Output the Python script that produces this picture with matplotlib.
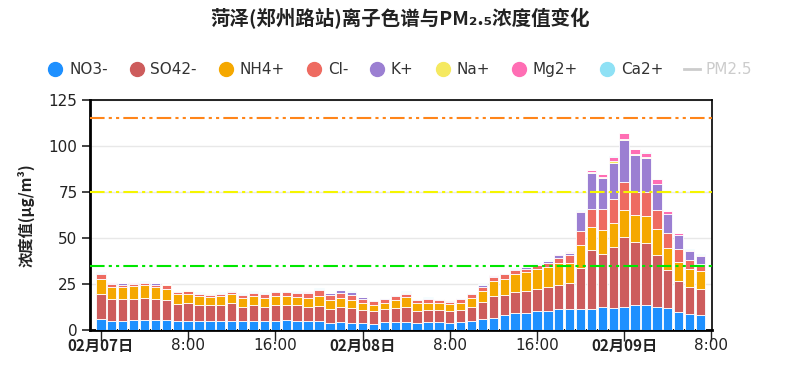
import matplotlib
matplotlib.use("Agg")
import matplotlib.pyplot as plt
from matplotlib.lines import Line2D

plt.rcParams['font.family'] = ['DejaVu Sans', 'Noto Sans CJK SC']
CJK = ['Noto Sans CJK SC', 'DejaVu Sans']

# hourly samples, 02-07 00:00 .. 02-09 07:00
hours = list(range(56))

no3 = [6.2, 5.1, 5.1, 5.7, 5.7, 5.7, 5.7, 5.1, 5.1, 4.8, 4.8, 4.8, 5.1, 4.8, 4.8, 5.1,
       5.1, 5.5, 4.9, 4.9, 4.9, 3.8, 4.6, 3.8, 3.8, 3.5, 4.6, 4.2, 4.6, 4.0, 4.6, 4.6,
       4.0, 4.6, 5.1, 6.0, 6.7, 7.9, 9.0, 9.0, 10.1, 10.4, 11.5, 11.5, 11.5, 11.5,
       12.6, 12.0, 12.6, 13.7, 13.7, 12.6, 11.7, 9.9, 8.8, 8.4]
so4 = [13.4, 11.7, 11.7, 11.1, 11.7, 11.1, 10.4, 9.2, 9.7, 8.9, 8.6, 8.6, 9.4, 7.8, 8.6, 7.5,
       8.3, 8.2, 8.5, 7.7, 8.3, 7.7, 7.9, 8.1, 6.8, 6.9, 6.9, 7.7, 7.9, 6.4, 6.4, 6.4,
       6.4, 6.2, 7.5, 9.2, 11.6, 11.1, 11.7, 12.1, 12.1, 13.0, 13.2, 13.8, 22.4, 31.9,
       28.6, 32.9, 38.1, 33.9, 33.4, 27.9, 21.0, 16.6, 14.4, 13.7]
nh4 = [8.0, 6.8, 6.3, 7.0, 7.0, 6.5, 6.4, 5.3, 4.8, 4.6, 4.5, 5.1, 4.9, 4.6, 4.9, 4.6,
       4.9, 4.8, 4.8, 4.8, 5.1, 4.8, 4.7, 4.4, 4.1, 3.2, 3.2, 4.4, 5.3, 4.3, 3.7, 3.7,
       3.7, 3.7, 4.6, 6.0, 8.1, 8.7, 9.5, 10.2, 10.8, 10.8, 11.6, 11.3, 12.3, 12.8,
       13.2, 13.1, 14.4, 15.0, 14.8, 14.4, 12.0, 10.4, 10.0, 9.7]
cl = [2.6, 1.5, 1.4, 1.1, 1.2, 1.4, 1.7, 1.1, 1.5, 1.3, 1.3, 1.1, 1.5, 1.8, 2.0, 2.4,
      2.2, 2.0, 1.8, 2.7, 3.3, 2.9, 3.1, 2.9, 2.3, 2.0, 2.0, 2.0, 1.8, 1.6, 2.1, 1.6,
      1.3, 2.2, 2.2, 2.2, 2.4, 2.5, 2.2, 1.9, 2.2, 2.4, 2.9, 4.1, 7.5, 9.5,
      11.1, 13.4, 15.4, 12.2, 12.9, 10.2, 8.0, 6.9, 4.8, 3.8]
k = [0.8, 0.5, 0.8, 0.6, 0.4, 0.6, 0.5, 0.4, 0.3, 0.5, 0.6, 0.5, 0.3, 0.6, 0.4, 0.5,
     0.6, 0.6, 0.7, 0.6, 0.7, 0.8, 1.3, 1.5, 0.8, 0.5, 0.5, 0.6, 0.7, 0.5, 0.6, 0.5,
     0.5, 0.5, 0.6, 0.8, 0.7, 0.6, 0.8, 0.9, 0.7, 0.9, 1.5, 0.9, 10.4, 19.5,
     17.2, 19.5, 22.6, 20.5, 18.4, 14.3, 10.3, 7.7, 4.9, 4.5]
na = [0.1, 0.2, 0.1, 0.3, 0.1, 0.1, 0.1, 0.1, 0.1, 0.1, 0.1, 0.1, 0.4, 0.1, 0.1, 0.1,
      0.1, 0.1, 0.1, 0.1, 0.1, 0.1, 0.1, 0.1, 0.1, 0.1, 0.1, 0.1, 0.5, 0.1, 0.1, 0.1,
      0.1, 0.1, 0.1, 0.1, 0.1, 0.1, 0.1, 0.1, 0.1, 0.1, 0.2, 1.0, 0.2, 0.5,
      0.6, 0.7, 0.7, 0.3, 0.6, 0.2, 0.2, 0.2, 0.1, 0.1]
mg = [0.1, 0.1, 0.1, 0.1, 0.1, 0.1, 0.1, 0.1, 0.1, 0.1, 0.1, 0.1, 0.1, 0.1, 0.1, 0.1,
      0.1, 0.1, 0.1, 0.2, 0.1, 0.1, 0.1, 0.1, 0.1, 0.1, 0.1, 0.1, 0.1, 0.1, 0.1, 0.1,
      0.1, 0.1, 0.1, 0.1, 0.1, 0.1, 0.1, 0.1, 0.1, 0.1, 0.3, 0.2, 0.3, 1.1,
      1.5, 2.6, 3.3, 2.9, 2.6, 2.5, 1.2, 0.9, 0.7, 0.8]
ca = [0.1, 0.1, 0.1, 0.1, 0.4, 0.1, 0.1, 0.1, 0.3, 0.1, 0.1, 0.1, 0.1, 0.1, 0.1, 0.1,
      0.1, 0.1, 0.1, 0.1, 0.1, 0.1, 0.1, 0.1, 0.1, 0.1, 0.1, 0.1, 0.1, 0.1, 0.1, 0.1,
      0.1, 0.1, 0.1, 0.5, 0.1, 0.1, 0.1, 0.1, 0.1, 0.1, 0.1, 0.1, 0.6, 0.2,
      0.1, 0.1, 0.1, 0.1, 0.3, 0.1, 0.1, 0.1, 0.1, 0.1]

ions = ["NO3-", "SO42-", "NH4+", "Cl-", "K+", "Na+", "Mg2+", "Ca2+"]
series = [no3, so4, nh4, cl, k, na, mg, ca]
colors = ['#1E90FF', '#CD5C5C', '#F5A800', '#EE6B61', '#9B7FD2', '#F5E960', '#FF6EB4', '#8FE1F5']

# standard lines
limits = [115, 75, 35]
limit_colors = ['#FF8519', '#F5F500', '#00E600']

tick_pos = [0, 8, 16, 24, 32, 40, 48, 56]
tick_labels = ["02月07日", "8:00", "16:00", "02月08日", "8:00", "16:00", "02月09日", "8:00"]

fig = plt.figure(figsize=(8, 3.78), dpi=100)
ax = fig.add_axes([0.1125, 0.127, 0.7775, 0.6085])

bottom = [0] * len(hours)
for vals, name, col in zip(series, ions, colors):
    ax.bar(hours, vals, width=0.86, bottom=bottom, color=col,
           edgecolor='white', linewidth=0.6, label=name, zorder=3)
    bottom = [b + v for b, v in zip(bottom, vals)]

for lv, lc in zip(limits, limit_colors):
    ax.axhline(lv, color=lc, lw=1.5, ls=(0, (7, 2, 1.5, 2, 1.5, 2)), zorder=4)

ax.set_xlim(-1.0, 56.06)
ax.set_ylim(0, 125)
ax.set_yticks([0, 25, 50, 75, 100, 125])
ax.yaxis.grid(True, color='#e8e8e8', lw=1)
ax.set_axisbelow(True)

ax.set_xticks(tick_pos)
ax.set_xticklabels(tick_labels)
for lab in ax.get_xticklabels():
    if '月' in lab.get_text():
        lab.set_fontweight('bold')
        lab.set_family(CJK)
        lab.set_fontsize(13)

ax.tick_params(axis='y', length=6, width=1.2, labelsize=11, pad=3, colors='#222222')
ax.tick_params(axis='x', length=8, width=1, labelsize=11, pad=-2, colors='#222222')
for side in ['left', 'bottom']:
    ax.spines[side].set_linewidth(2)
for side in ['top', 'right']:
    ax.spines[side].set_linewidth(1.2)

ax.set_ylabel('浓度值(μg/m³)', fontsize=11, fontweight='bold', family=CJK,
              labelpad=10, color='#222222')

fig.text(0.5, 0.952, '菏泽(郑州路站)离子色谱与PM₂.₅浓度值变化', ha='center', va='center',
         fontsize=14, fontweight='bold', family=CJK, color='#222222')

handles = [Line2D([], [], marker='o', ls='', markersize=10, color=c) for c in colors]
handles.append(Line2D([], [], color='#cccccc', lw=2))
leg = fig.legend(handles, ions + ["PM2.5"], loc='center', bbox_to_anchor=(0.5, 0.815),
                 ncol=9, frameon=False, fontsize=11, handlelength=1.0,
                 handletextpad=0.4, columnspacing=1.4)
for t in leg.get_texts():
    t.set_color('#333333')
leg.get_texts()[-1].set_color('#cccccc')

fig.savefig('out.png', dpi=100)
